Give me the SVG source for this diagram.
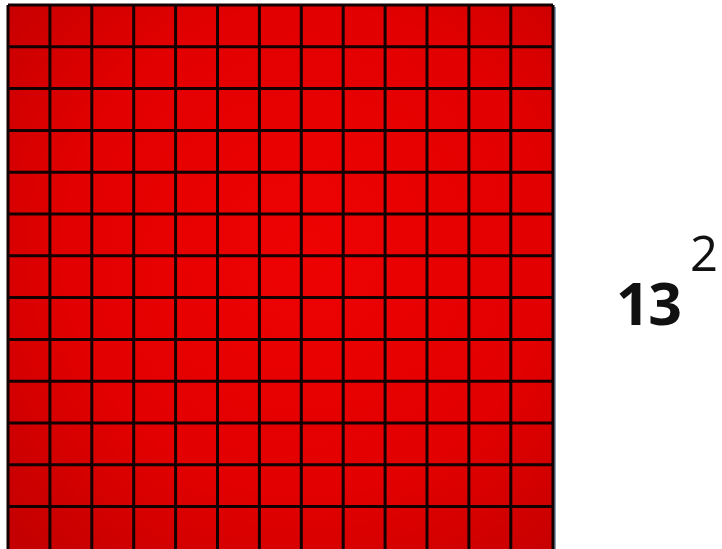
<svg xmlns="http://www.w3.org/2000/svg" width="722" height="549" viewBox="0 0 722 549">
<defs>
<radialGradient id="rg" cx="0.55" cy="0.45" r="0.75">
<stop offset="0" stop-color="#ee0202"/>
<stop offset="0.6" stop-color="#e20000"/>
<stop offset="1" stop-color="#c40000"/>
</radialGradient>
</defs>
<style>
.num{font-family:"Open Sans","Noto Sans",sans-serif;fill:#111}
.gl{fill:none;stroke:#140000;stroke-width:3}
</style>
<rect width="722" height="549" fill="#ffffff"/>
<g id="square">
<rect x="554" y="7" width="2" height="542" fill="#8aa0b8"/>
<rect x="8" y="5" width="545" height="544" fill="url(#rg)"/>
<path class="gl" d="M8 5 V549 M49.9 5 V549 M91.8 5 V549 M133.7 5 V549 M175.6 5 V549 M217.5 5 V549 M259.4 5 V549 M301.3 5 V549 M343.2 5 V549 M385.1 5 V549 M427 5 V549 M468.9 5 V549 M510.8 5 V549 M553 5 V549"/>
<path class="gl" d="M8 5 H553 M8 46.8 H553 M8 88.6 H553 M8 130.4 H553 M8 172.2 H553 M8 214 H553 M8 255.8 H553 M8 297.6 H553 M8 339.4 H553 M8 381.2 H553 M8 423 H553 M8 464.8 H553 M8 506.6 H553"/>
</g>
<g id="label">
<text class="num" x="616" y="325" font-size="59" font-weight="bold" textLength="66">13</text>
<text class="num" x="690" y="271" font-size="49" font-weight="normal">2</text>
</g>
</svg>
